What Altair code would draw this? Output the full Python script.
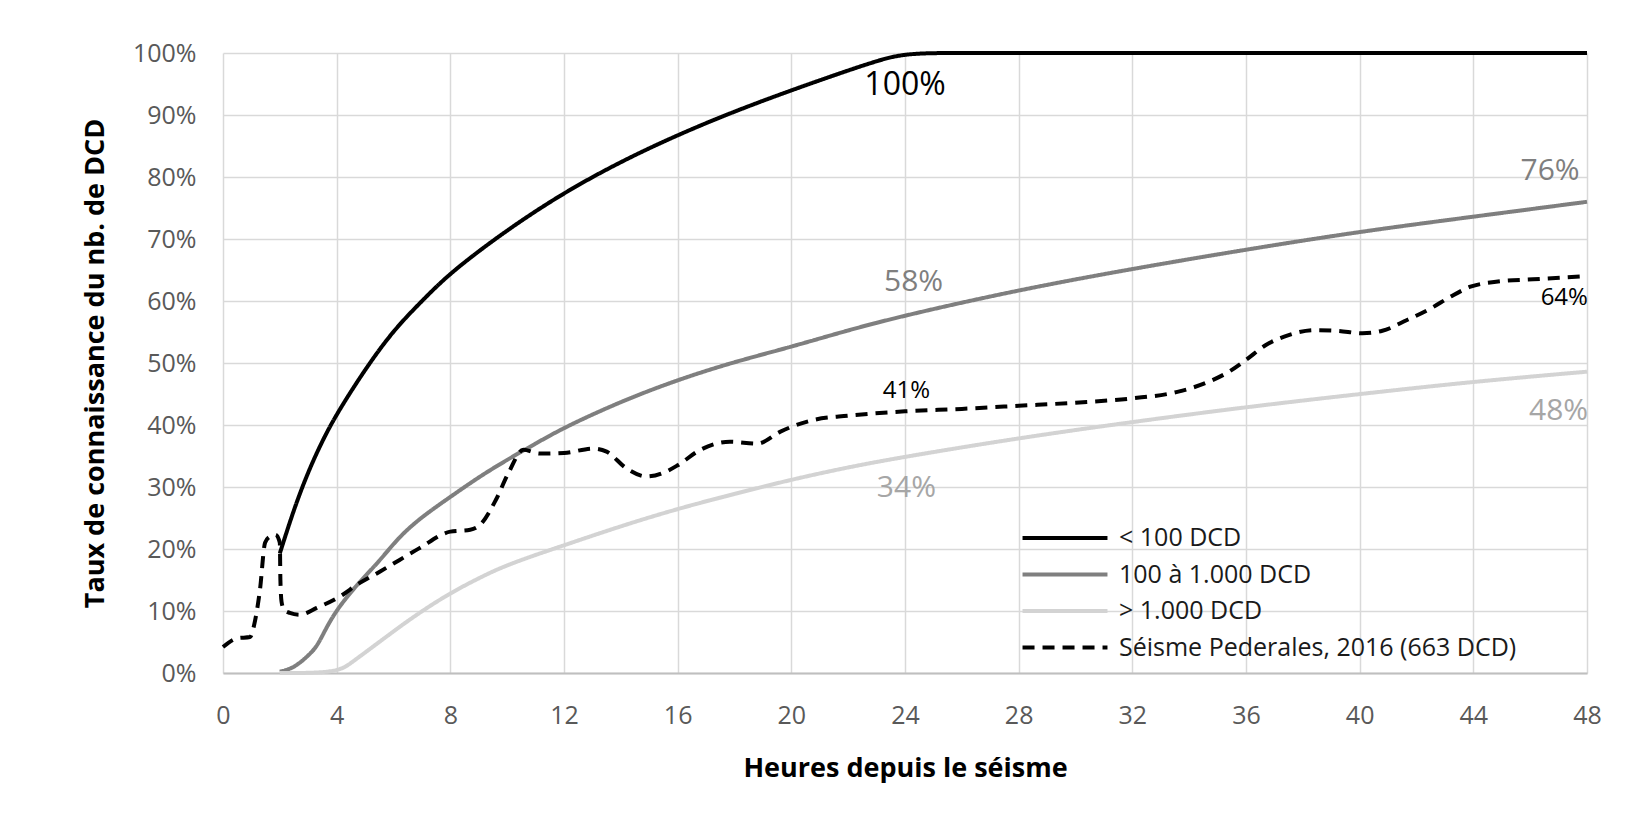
import altair as alt
import pandas as pd

# ---- data ----
series_names = ["< 100 DCD", "100 à 1.000 DCD", "> 1.000 DCD", "Séisme Pederales, 2016 (663 DCD)"]
series_colors = ["#000000", "#7f7f7f", "#d3d3d3", "#000000"]
series_dash = [[1, 0], [1, 0], [1, 0], [12, 8]]
series_width = [4, 4, 4, 2.8]

black_h = [2, 2.5, 3, 3.5, 4, 5, 6, 7, 8, 10, 12, 14, 16, 18, 20, 22, 23, 24, 26, 28, 32, 36, 40, 44, 48]
black_p = [19.3, 26.5, 32.5, 37.5, 41.8, 49, 55.3, 60, 64.6, 71.5, 77.5, 82.5, 86.8, 90.6, 94, 97.2, 98.7, 100, 100, 100, 100, 100, 100, 100, 100]

gray_h = [2, 2.5, 3, 3.3, 3.6, 4, 4.7, 5.5, 6.2, 7, 8, 9, 10, 11, 12, 14, 16, 18, 20, 22, 24, 28, 32, 36, 40, 44, 48]
gray_p = [0.2, 0.8, 2.8, 4.2, 7, 10.2, 14.2, 18, 22, 25.2, 28.4, 31.6, 34.4, 37, 39.6, 43.8, 47.3, 50.2, 52.6, 55.3, 57.7, 61.8, 65.2, 68.3, 71.2, 73.6, 76]

light_h = [2, 4, 4.5, 5, 5.5, 6.2, 7, 8, 9, 10, 12, 14, 16, 18, 20, 22, 24, 28, 32, 36, 40, 44, 48]
light_p = [0, 0, 1.6, 3.3, 5, 7.4, 10, 12.9, 15.3, 17.5, 20.6, 23.7, 26.5, 28.9, 31.2, 33.2, 34.9, 37.9, 40.5, 42.9, 45, 47, 48.6]

dashed_h = [0, 0.5, 0.95, 1.13, 1.3, 1.48, 1.65, 1.85, 2.0, 2.02,
            2.06, 2.15, 2.35, 2.7, 3.3, 4.1, 4.8, 5.5, 6.2, 6.9,
            8, 8.7, 9.05, 9.6, 10.04, 10.57, 11.15, 12, 13.03, 13.5,
            14.2, 14.9, 15.6, 16, 16.8, 17.84, 18.8, 19.6, 20, 20.77,
            22, 24, 26, 28, 30, 32, 33.55, 34.7, 35.4, 36,
            36.7, 37.5, 38.4, 39.2, 40.1, 40.8, 41.65, 42.5, 43.2, 43.9,
            44.8, 46.1, 48]
dashed_p = [4.2, 5.6, 5.8, 8.5, 13.4, 21, 22, 22.3, 21, 15,
            11.5, 10.2, 9.7, 9.4, 10.5, 12.3, 14.5, 16.3, 18.2, 20.1,
            22.8, 23.1, 23.9, 27.9, 32.2, 36, 35.4, 35.5, 36.2, 35.7,
            33, 31.7, 32.5, 33.5, 36, 37.3, 37, 38.9, 39.7, 40.8,
            41.5, 42.2, 42.6, 43.1, 43.6, 44.3, 45.3, 47, 48.6, 50.5,
            52.9, 54.5, 55.3, 55.2, 54.8, 55.2, 56.9, 58.8, 60.7, 62.3,
            63.1, 63.5, 64.0]

label_text = ["100%", "58%", "34%", "41%", "76%", "64%", "48%"]
label_h = [24.0, 24.3, 24.05, 24.05, 46.7, 47.2, 47.0]
label_p = [94.8, 63.1, 29.8, 45.5, 81.0, 60.5, 42.3]
label_color = ["#000000", "#7f7f7f", "#a6a6a6", "#000000", "#7f7f7f", "#000000", "#a6a6a6"]
label_size = [32, 30, 30, 24, 30, 24, 30]

x_ticks = list(range(0, 49, 4))
y_ticks = list(range(0, 101, 10))

# ---- build tables ----
rows = []
for name, hs, ps in zip(series_names, [black_h, gray_h, light_h, dashed_h], [black_p, gray_p, light_p, dashed_p]):
    for i, (h, p) in enumerate(zip(hs, ps)):
        rows.append({"serie": name, "h": h, "p": p, "i": i})
df = pd.DataFrame(rows)

labels = pd.DataFrame({"t": label_text, "h": label_h, "p": label_p,
                       "c": label_color, "s": label_size})

FONT = "Open Sans"

x_enc = alt.X("h:Q", scale=alt.Scale(domain=[0, 48], nice=False),
              axis=alt.Axis(values=x_ticks, title="Heures depuis le séisme",
                            labelFontSize=25, labelColor="#595959", labelFont=FONT,
                            labelPadding=30, tickSize=0, labelFlush=False,
                            grid=True, gridColor="#d9d9d9", gridWidth=1.5,
                            domain=True, domainColor="#bfbfbf", domainWidth=2,
                            titleFont=FONT, titleFontSize=27, titleFontWeight="bold",
                            titleColor="#000000", titleY=103, titleBaseline="alphabetic"))
y_enc = alt.Y("p:Q", scale=alt.Scale(domain=[0, 100], nice=False),
              axis=alt.Axis(values=y_ticks, labelExpr="datum.value + '%'",
                            title="Taux de connaissance du nb. de DCD",
                            labelFontSize=25, labelColor="#595959", labelFont=FONT,
                            labelPadding=27, tickSize=0, labelFlush=False,
                            grid=True, gridColor="#d9d9d9", gridWidth=1.5,
                            domain=False,
                            titleFont=FONT, titleFontSize=27, titleFontWeight="bold",
                            titleColor="#000000", titleAngle=-90, titleX=-128, titleY=310,
                            titleAlign="center", titleBaseline="middle"))

leg = alt.Legend(title=None, orient="none", legendX=829, legendY=472,
                 symbolType="M-4,0H4", symbolSize=451,
                 labelFont=FONT, labelFontSize=25, labelColor="#1a1a1a",
                 labelOffset=41, rowPadding=10.5, padding=0, labelLimit=600)

enc = dict(
    x=x_enc,
    y=y_enc,
    order="i:Q",
    color=alt.Color("serie:N", scale=alt.Scale(domain=series_names, range=series_colors), legend=leg),
    strokeDash=alt.StrokeDash("serie:N", scale=alt.Scale(domain=series_names, range=series_dash), legend=leg),
    strokeWidth=alt.StrokeWidth("serie:N", scale=alt.Scale(domain=series_names, range=series_width), legend=leg),
)

solid = alt.Chart(df).transform_filter(
    alt.FieldOneOfPredicate(field="serie", oneOf=series_names[:3])
).mark_line(interpolate="basis").encode(**enc)

dashed = alt.Chart(df).transform_filter(
    alt.FieldEqualPredicate(field="serie", equal=series_names[3])
).mark_line(interpolate="monotone").encode(**enc)

texts = alt.Chart(labels).mark_text(font=FONT, baseline="middle", align="center").encode(
    x=alt.X("h:Q"),
    y=alt.Y("p:Q"),
    text="t:N",
    color=alt.Color("c:N", scale=None),
    size=alt.Size("s:Q", scale=None),
)

chart = alt.layer(solid, dashed, texts).properties(
    width=1364, height=620,
    autosize=alt.AutoSizeParams(type="none"),
    padding={"left": 215, "top": 45, "right": 30, "bottom": 120},
    background="white",
).configure_view(stroke=None)

chart.save("out.html", embed_options={"renderer": "svg", "actions": False})
